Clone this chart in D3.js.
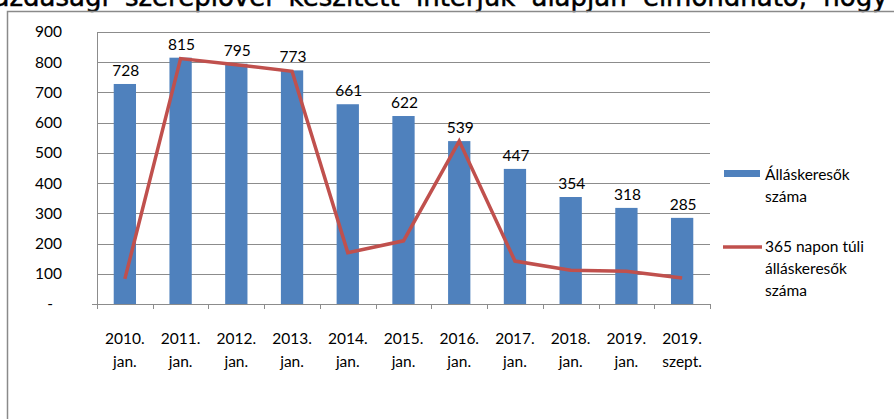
<!DOCTYPE html>
<html>
<head>
<meta charset="utf-8">
<script src="https://cdn.jsdelivr.net/npm/d3@7"></script>
<style>
  html, body { margin: 0; padding: 0; background: #fff; overflow: hidden; }
  svg { display: block; }
</style>
</head>
<body>
<script>
// chart data
const categories = ["2010.|jan.", "2011.|jan.", "2012.|jan.", "2013.|jan.", "2014.|jan.", "2015.|jan.",
                    "2016.|jan.", "2017.|jan.", "2018.|jan.", "2019.|jan.", "2019.|szept."];
const jobseekers = [728, 815, 795, 773, 661, 622, 539, 447, 354, 318, 285];
const longTerm = [83, 812, 792, 770, 170, 209, 539, 142, 112, 108, 86];
const yTicks = [0, 100, 200, 300, 400, 500, 600, 700, 800, 900];
const seriesNames = [["Álláskeresők", "száma"], ["365 napon túli", "álláskeresők", "száma"]];
const topWords = ["gazdasági", "szereplővel", "készített", "interjúk", "alapján", "elmondható,", "hogy"];

const w = 894;
const h = 419;
const font = "Lato, 'Open Sans', sans-serif";

const svg = d3.select("body")
    .append("svg")
    .attr("width", w)
    .attr("height", h);

// text line cut off above the chart (justified paragraph line)
const ws = 8;
const topText = svg.append("text")
    .attr("y", 6)
    .style("font-family", "'DejaVu Sans', sans-serif")
    .style("font-size", "22px")
    .attr("fill", "#000")
    .attr("stroke", "#000")
    .attr("stroke-width", 0.5)
    .text(topWords.join(" "));
const L0 = topText.node().getComputedTextLength();
const P0 = topText.node().getSubStringLength(0, topWords[0].length + 1);
const fs = (763 - (topWords.length - 2) * ws) * 22 / (L0 - P0);
topText.style("font-size", fs + "px")
    .style("word-spacing", ws + "px")
    .attr("x", 125 - P0 * fs / 22 - ws);

// chart frame (left and top edges)
svg.append("path")
    .attr("d", "M7.5," + h + "V11.5H" + w)
    .attr("fill", "none")
    .attr("stroke", "#8a8a8a")
    .attr("stroke-width", 1.5);

const xScale = d3.scaleBand()
    .domain(categories)
    .range([97, 710])
    .paddingInner(0.6)
    .paddingOuter(0.3);

const yScale = d3.scaleLinear()
    .domain([0, 900])
    .range([304, 32]);

// gridlines
svg.append("g")
    .selectAll("line")
    .data(yTicks.slice(1))
    .join("line")
    .attr("x1", 97)
    .attr("x2", 710)
    .attr("y1", d => Math.round(yScale(d)) + 0.5)
    .attr("y2", d => Math.round(yScale(d)) + 0.5)
    .attr("stroke", "#8c8c8c")
    .attr("stroke-width", 1);

// y axis line
svg.append("line")
    .attr("x1", 97.5).attr("x2", 97.5)
    .attr("y1", yScale(900)).attr("y2", yScale(0) + 5)
    .attr("stroke", "#8c8c8c");

// y tick labels
svg.append("g")
    .selectAll("text")
    .data(yTicks)
    .join("text")
    .attr("x", d => d === 0 ? 53 : 62)
    .attr("y", d => yScale(d))
    .attr("dy", "0.35em")
    .attr("text-anchor", "end")
    .style("font-family", font)
    .style("font-size", "15.5px")
    .attr("fill", "#000")
    .text(d => d === 0 ? "-" : d);

// bars
svg.append("g")
    .selectAll("rect")
    .data(jobseekers)
    .join("rect")
    .attr("x", (d, i) => xScale(categories[i]))
    .attr("y", d => yScale(d))
    .attr("width", xScale.bandwidth())
    .attr("height", d => yScale(0) - yScale(d))
    .attr("fill", "#4f81bd");

// x axis baseline and category ticks
const gap = (xScale.step() - xScale.bandwidth()) / 2;
const bounds = categories.map(c => xScale(c) - gap).concat([710]);
svg.append("line")
    .attr("x1", 92).attr("x2", 710)
    .attr("y1", Math.round(yScale(0)) + 0.5).attr("y2", Math.round(yScale(0)) + 0.5)
    .attr("stroke", "#8c8c8c");
svg.append("g")
    .selectAll("line")
    .data(bounds)
    .join("line")
    .attr("x1", d => Math.round(d) + 0.5)
    .attr("x2", d => Math.round(d) + 0.5)
    .attr("y1", yScale(0))
    .attr("y2", yScale(0) + 5)
    .attr("stroke", "#8c8c8c");

// x labels, two lines each
const xLab = svg.append("g")
    .selectAll("text")
    .data(categories)
    .join("text")
    .attr("text-anchor", "middle")
    .style("font-family", font)
    .style("font-size", "15.5px")
    .attr("fill", "#000");
xLab.append("tspan")
    .attr("x", d => xScale(d) + xScale.bandwidth() / 2)
    .attr("y", 344)
    .text(d => d.split("|")[0]);
xLab.append("tspan")
    .attr("x", d => xScale(d) + xScale.bandwidth() / 2)
    .attr("y", 367)
    .text(d => d.split("|")[1]);

// line series
const line = d3.line()
    .x((d, i) => xScale(categories[i]) + xScale.bandwidth() / 2)
    .y(d => yScale(d));
svg.append("path")
    .datum(longTerm)
    .attr("d", line)
    .attr("fill", "none")
    .attr("stroke", "#c0504d")
    .attr("stroke-width", 3.5)
    .attr("stroke-linejoin", "miter");

// data labels
svg.append("g")
    .selectAll("text")
    .data(jobseekers)
    .join("text")
    .attr("x", (d, i) => xScale(categories[i]) + xScale.bandwidth() / 2 + 1)
    .attr("y", d => yScale(d) - 8)
    .attr("text-anchor", "middle")
    .style("font-family", font)
    .style("font-size", "15.5px")
    .attr("fill", "#000")
    .text(d => d);

// legend
const legend = svg.append("g");
legend.append("rect")
    .attr("x", 724).attr("y", 170)
    .attr("width", 36).attr("height", 7)
    .attr("fill", "#4f81bd");
legend.append("line")
    .attr("x1", 723).attr("x2", 762)
    .attr("y1", 247).attr("y2", 247)
    .attr("stroke", "#c0504d")
    .attr("stroke-width", 3.5);

const legendY = [175, 247];
seriesNames.forEach((lines, k) => {
    legend.append("g")
        .selectAll("text")
        .data(lines)
        .join("text")
        .attr("x", 765)
        .attr("y", (d, i) => legendY[k] + i * 22)
        .attr("dy", "0.35em")
        .style("font-family", font)
        .style("font-size", "15.5px")
        .attr("fill", "#000")
        .text(d => d);
});
</script>
</body>
</html>
